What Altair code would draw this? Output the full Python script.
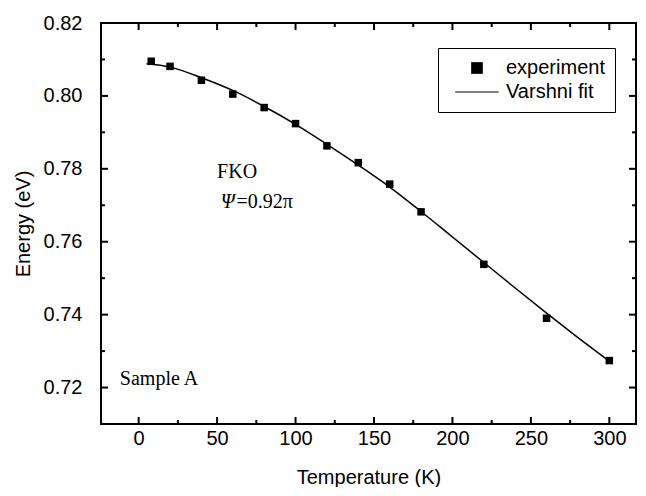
import altair as alt
import pandas as pd

# ---- data ----
temp_exp = [8, 20, 40, 60, 80, 100, 120, 140, 160, 180, 220, 260, 300]
energy_exp = [0.8095, 0.8081, 0.8043, 0.8005, 0.7968, 0.7924, 0.7863, 0.7817,
              0.7758, 0.7682, 0.7538, 0.7390, 0.7274]

temp_fit = [5, 20, 40, 60, 80, 100, 120, 140, 160, 180, 200, 220, 240, 260, 280, 300]
energy_fit = [0.8088, 0.8079, 0.8050, 0.8015, 0.7971, 0.7922, 0.7867, 0.7810,
              0.7750, 0.7683, 0.7613, 0.7543, 0.7473, 0.7404, 0.7337, 0.7272]

series_names = ["experiment", "Varshni fit"]

x_major = [0, 50, 100, 150, 200, 250, 300]
x_minor = [25, 75, 125, 175, 225, 275]
y_major = [0.72, 0.74, 0.76, 0.78, 0.80, 0.82]
y_minor = [0.73, 0.75, 0.77, 0.79, 0.81]

ann_text = ["FKO", "=0.92π", "Sample A"]
ann_temp = [50, 62.3, -12]
ann_energy = [0.7774, 0.7693, 0.7207]

ital_text = ["Ψ"]
ital_temp = [52.4]
ital_energy = [0.7693]

X_DOM = [-24, 317]
Y_DOM = [0.71, 0.82]
W, H = 535, 401

SANS = "Liberation Sans"
SERIF = "Liberation Serif"

df_exp = pd.DataFrame({"T": temp_exp, "E": energy_exp, "series": series_names[0]})
df_fit = pd.DataFrame({"T": temp_fit, "E": energy_fit})
df_ann = pd.DataFrame({"T": ann_temp, "E": ann_energy, "label": ann_text})
df_ital = pd.DataFrame({"T": ital_temp, "E": ital_energy, "label": ital_text})

XS = alt.Scale(domain=X_DOM, nice=False, zero=False)
YS = alt.Scale(domain=Y_DOM, nice=False, zero=False)

ax_bottom = alt.Axis(orient="bottom", values=x_major, ticks=False, tickSize=0,
                     domain=False, grid=False,
                     labelFont=SANS, labelFontSize=20, labelColor="black",
                     labelPadding=4, labelFlush=False,
                     title="Temperature (K)", titleFont=SANS, titleFontSize=20,
                     titleFontWeight="normal", titleColor="black", titlePadding=19)
ax_left = alt.Axis(orient="left", values=y_major, format=".2f", ticks=False,
                   tickSize=0, domain=False, grid=False,
                   labelFont=SANS, labelFontSize=20, labelColor="black",
                   labelPadding=19, labelFlush=False,
                   title="Energy (eV)", titleFont=SANS, titleFontSize=20,
                   titleFontWeight="normal", titleColor="black", titlePadding=10)


def X(field="T"):
    return alt.X(f"{field}:Q", scale=XS, axis=ax_bottom, title="Temperature (K)")


def Y(field="E"):
    return alt.Y(f"{field}:Q", scale=YS, axis=ax_left, title="Energy (eV)")


fit_line = alt.Chart(df_fit).mark_line(color="black", strokeWidth=1.5,
                                       interpolate="monotone").encode(x=X(), y=Y())

square = "M-0.585,-0.585H0.585V0.585H-0.585Z"
bar = "M-2.17,-0.05H2.17V0.05H-2.17Z"

points = alt.Chart(df_exp).mark_point(filled=True, color="black", opacity=1,
                                      size=165).encode(
    x=X(), y=Y(),
    shape=alt.Shape("series:N",
                    scale=alt.Scale(domain=series_names, range=[square, bar]),
                    legend=alt.Legend(orient="none", legendX=337, legendY=25,
                                      title=None, strokeColor="black",
                                      fillColor="white", padding=10,
                                      symbolSize=400, symbolFillColor="black",
                                      symbolStrokeWidth=0, symbolOffset=19,
                                      labelOffset=19, labelFont=SANS,
                                      labelFontSize=20, labelColor="black",
                                      rowPadding=4)),
)

# inward frame ticks: tick length in pixels converted to data units
ey = (Y_DOM[1] - Y_DOM[0]) / H
ex = (X_DOM[1] - X_DOM[0]) / W
rows = []
for vals, length in ((x_major, 7), (x_minor, 4)):
    for v in vals:
        rows.append({"T": v, "T2": v, "E": Y_DOM[0], "E2": Y_DOM[0] + length * ey})
        rows.append({"T": v, "T2": v, "E": Y_DOM[1], "E2": Y_DOM[1] - length * ey})
for vals, length in ((y_major, 7), (y_minor, 4)):
    for v in vals:
        rows.append({"T": X_DOM[0], "T2": X_DOM[0] + length * ex, "E": v, "E2": v})
        rows.append({"T": X_DOM[1], "T2": X_DOM[1] - length * ex, "E": v, "E2": v})
df_ticks = pd.DataFrame(rows)

tick_rules = alt.Chart(df_ticks).mark_rule(color="black", strokeWidth=2,
                                           opacity=1).encode(
    x=X(), x2="T2:Q", y=Y(), y2="E2:Q",
)

annotations = alt.Chart(df_ann).mark_text(font=SERIF, fontSize=20, color="black",
                                          align="left", baseline="alphabetic").encode(
    x=X(), y=Y(), text="label:N",
)

italic = alt.Chart(df_ital).mark_text(font=SERIF, fontSize=20, color="black",
                                      fontStyle="italic",
                                      align="left", baseline="alphabetic").encode(
    x=X(), y=Y(), text="label:N",
)

chart = alt.layer(fit_line, tick_rules, points, annotations, italic).properties(
    width=W, height=H,
    padding={"left": 5, "top": 5, "right": 0, "bottom": 0},
).configure_view(stroke="black", strokeWidth=2)

chart.save("out.html", embed_options={"renderer": "svg", "actions": False})
